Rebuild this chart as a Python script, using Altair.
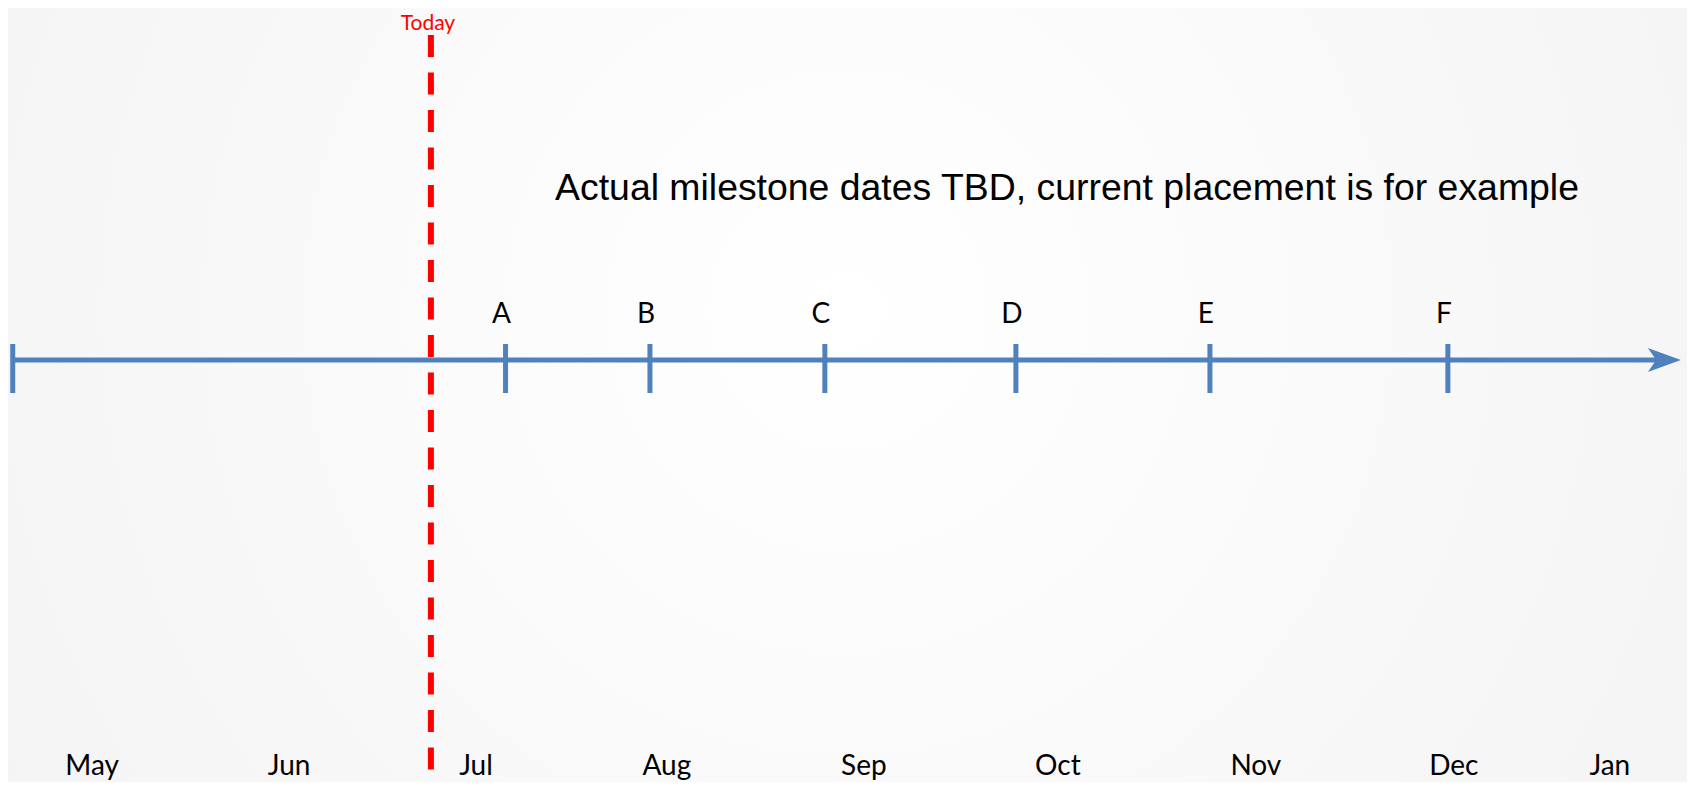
import altair as alt
import pandas as pd

# Timeline units: months since the start of the timeline (May 1)
months = ["May", "Jun", "Jul", "Aug", "Sep", "Oct", "Nov", "Dec", "Jan"]
month_pos = [0.403, 1.403, 2.352, 3.321, 4.321, 5.306, 6.311, 7.316, 8.108]

milestones = ["A", "B", "C", "D", "E", "F"]
milestone_pos = [2.502, 3.235, 4.123, 5.093, 6.078, 7.286]

today_label = ["Today"]
today_pos = [2.123]

timeline_start = [0.0]
timeline_end = [8.469]

note = "Actual milestone dates TBD, current placement is for example"

W, H = 1679, 774
BLUE = "#4f81bd"
RED = "#ff0000"

xscale = alt.Scale(domain=[-0.024, 8.5], range=[0, W], nice=False, zero=False)
X = lambda f: alt.X(f, type="quantitative", scale=xscale, axis=None)

df_months = pd.DataFrame({"label": months, "pos": month_pos})
df_ms = pd.DataFrame({"label": milestones, "pos": milestone_pos})
df_today = pd.DataFrame({"label": today_label, "pos": today_pos})
df_line = pd.DataFrame({"start": timeline_start, "end": timeline_end})
df_note = pd.DataFrame({"label": [note]})

bg = alt.Chart(df_note).mark_rect(
    color=alt.Gradient(
        gradient="radial",
        stops=[alt.GradientStop(offset=0, color="#ffffff"),
               alt.GradientStop(offset=1, color="#f1f1f1")],
        x1=0.5, y1=0.45, x2=0.5, y2=0.45, r1=0, r2=0.75,
    )
).encode(x=alt.value(0), x2=alt.value(W), y=alt.value(0), y2=alt.value(H))

axis_line = alt.Chart(df_line).mark_rule(
    color=BLUE, strokeWidth=5, x2Offset=-22
).encode(x=X("start"), x2="end:Q", y=alt.value(352))

start_tick = alt.Chart(df_line).mark_rule(color=BLUE, strokeWidth=5).encode(
    x=X("start"), y=alt.value(336), y2=alt.value(385)
)

arrow = alt.Chart(df_line).mark_point(
    shape="M0,0 L-2,-0.73 L-1.5,0 L-2,0.73 Z",
    size=1089, filled=True, color=BLUE, opacity=1, strokeWidth=0,
).encode(x=X("end"), y=alt.value(352))

ms_ticks = alt.Chart(df_ms).mark_rule(color=BLUE, strokeWidth=5).encode(
    x=X("pos"), y=alt.value(336), y2=alt.value(385)
)

ms_labels = alt.Chart(df_ms).mark_text(
    font="Lato", fontSize=28, color="#000000", baseline="alphabetic",
    align="center", dx=-4,
).encode(x=X("pos"), y=alt.value(315), text="label:N")

month_labels = alt.Chart(df_months).mark_text(
    font="Lato", fontSize=28, color="#000000", baseline="alphabetic",
    align="center",
).encode(x=X("pos"), y=alt.value(767), text="label:N")

today_line = alt.Chart(df_today).mark_rule(
    color=RED, strokeWidth=6, strokeDash=[22, 15.5]
).encode(x=X("pos"), y=alt.value(27), y2=alt.value(H))

today_text = alt.Chart(df_today).mark_text(
    font="Lato", fontSize=21, color=RED, baseline="alphabetic",
    align="center", dx=-3,
).encode(x=X("pos"), y=alt.value(22), text="label:N")

note_text = alt.Chart(df_note).mark_text(
    font="Liberation Sans", fontSize=37.4, color="#000000",
    baseline="alphabetic", align="center",
).encode(x=alt.value(1059), y=alt.value(192), text="label:N")

chart = alt.layer(
    bg, axis_line, start_tick, arrow, ms_ticks, today_line,
    ms_labels, month_labels, today_text, note_text,
).properties(
    width=W, height=H, padding=0, autosize=alt.AutoSizeParams(type="none"),
    background="#f6f6f6",
).configure_view(stroke=None)

chart.save("out.html", embed_options={"renderer": "svg", "actions": False})
